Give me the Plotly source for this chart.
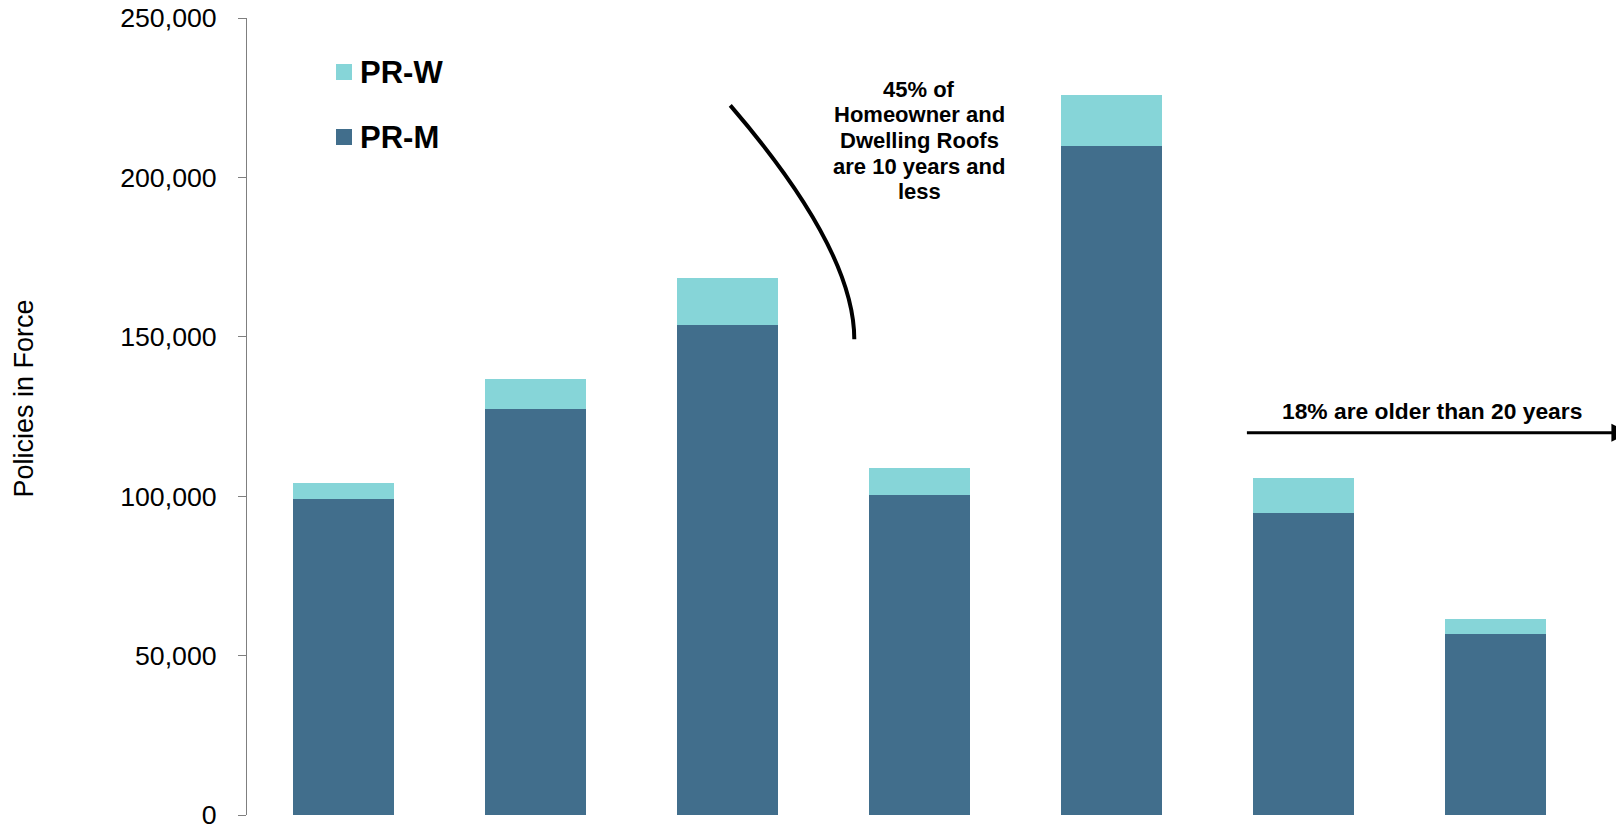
import plotly.graph_objects as go

# Roof-age groups (no axis labels are drawn for them)
age_groups = [0, 1, 2, 3, 4, 5, 6]
pr_m = [99000, 127200, 153600, 100400, 209800, 94600, 56700]
pr_w = [5000, 9700, 14900, 8300, 15900, 11200, 4900]
y_ticks = [0, 50000, 100000, 150000, 200000, 250000]

COLOR_M = "#416E8C"
COLOR_W = "#86D5D8"
FONT = "Arial, Liberation Sans, sans-serif"

W, H = 1616, 826
M_L, M_R, M_T, M_B = 247, 25, 18, 11
PLOT_W = W - M_L - M_R
PLOT_H = H - M_T - M_B


def px_to_paper(px, py):
    """Convert page pixels to paper coordinates of the plotting area."""
    return (px - M_L) / PLOT_W, (H - M_B - py) / PLOT_H


fig = go.Figure()
fig.add_trace(go.Bar(x=age_groups, y=pr_m, name="PR-M", marker_color=COLOR_M,
                     width=0.526, marker_line_width=0, showlegend=False))
fig.add_trace(go.Bar(x=age_groups, y=pr_w, name="PR-W", marker_color=COLOR_W,
                     width=0.526, marker_line_width=0, showlegend=False))

annotations = []
shapes = []

# Hand-built legend: coloured squares with bold labels
for label, color, cy in [("PR-W", COLOR_W, 72), ("PR-M", COLOR_M, 137)]:
    x0, y0 = px_to_paper(336, cy + 8)
    x1, y1 = px_to_paper(352, cy - 8)
    shapes.append(dict(type="rect", xref="paper", yref="paper", x0=x0, y0=y0,
                       x1=x1, y1=y1, fillcolor=color, line_width=0))
    tx, ty = px_to_paper(358, cy)
    annotations.append(dict(xref="paper", yref="paper", x=tx, y=ty, text=f"<b>{label}</b>",
                            showarrow=False, xanchor="left", yanchor="middle",
                            font=dict(family=FONT, size=31, color="black")))

# Callout for roofs of 10 years and less
note_lines = ["45% of", "Homeowner and", "Dwelling Roofs", "are 10 years and", "less"]
first_line_px, line_step_px = 89, 25.7
for i, line in enumerate(note_lines):
    _, ty = px_to_paper(0, first_line_px + i * line_step_px)
    annotations.append(dict(x=3.0, xref="x", yref="paper", y=ty, text=f"<b>{line}</b>",
                            showarrow=False, xanchor="center", yanchor="middle",
                            font=dict(family=FONT, size=22, color="black")))

# Curved pointer line beside the callout
shapes.append(dict(type="path", xref="x", yref="y",
                   path="M 2.017,222600 Q 2.663,177400 2.663,149200",
                   line=dict(color="black", width=4)))

# Arrow and label for roofs older than 20 years
annotations.append(dict(x=6.70, y=119900, ax=4.70, ay=119900, xref="x", yref="y",
                        axref="x", ayref="y", text="", showarrow=True,
                        arrowhead=2, arrowsize=1.2, arrowwidth=3, arrowcolor="black"))
annotations.append(dict(x=5.672, y=126700, xref="x", yref="y",
                        text="<b>18% are older than 20 years</b>", showarrow=False,
                        xanchor="center", yanchor="middle",
                        font=dict(family=FONT, size=22.8, color="black")))

# Rotated axis title
tx, ty = px_to_paper(23.5, 399)
annotations.append(dict(xref="paper", yref="paper", x=tx, y=ty, text="Policies in Force",
                        textangle=-90, showarrow=False, xanchor="center", yanchor="middle",
                        font=dict(family=FONT, size=27, color="black")))

fig.update_layout(
    width=W, height=H,
    margin=dict(l=M_L, r=M_R, t=M_T, b=M_B, autoexpand=False),
    barmode="stack",
    bargap=0,
    plot_bgcolor="white",
    paper_bgcolor="white",
    showlegend=False,
    annotations=annotations,
    shapes=shapes,
    xaxis=dict(visible=False, range=[-0.5, 6.5], fixedrange=True, automargin=False),
    yaxis=dict(range=[0, 250000], tickvals=y_ticks, tickformat=",", automargin=False,
               showgrid=False, zeroline=False, showline=True, linecolor="#7f7f7f",
               linewidth=1, ticks="outside", ticklen=8, tickcolor="#7f7f7f", tickwidth=1,
               ticklabelstandoff=16, ticklabeloverflow="allow",
               tickfont=dict(family=FONT, size=26.7, color="black")),
)

fig.write_html("out.html")
